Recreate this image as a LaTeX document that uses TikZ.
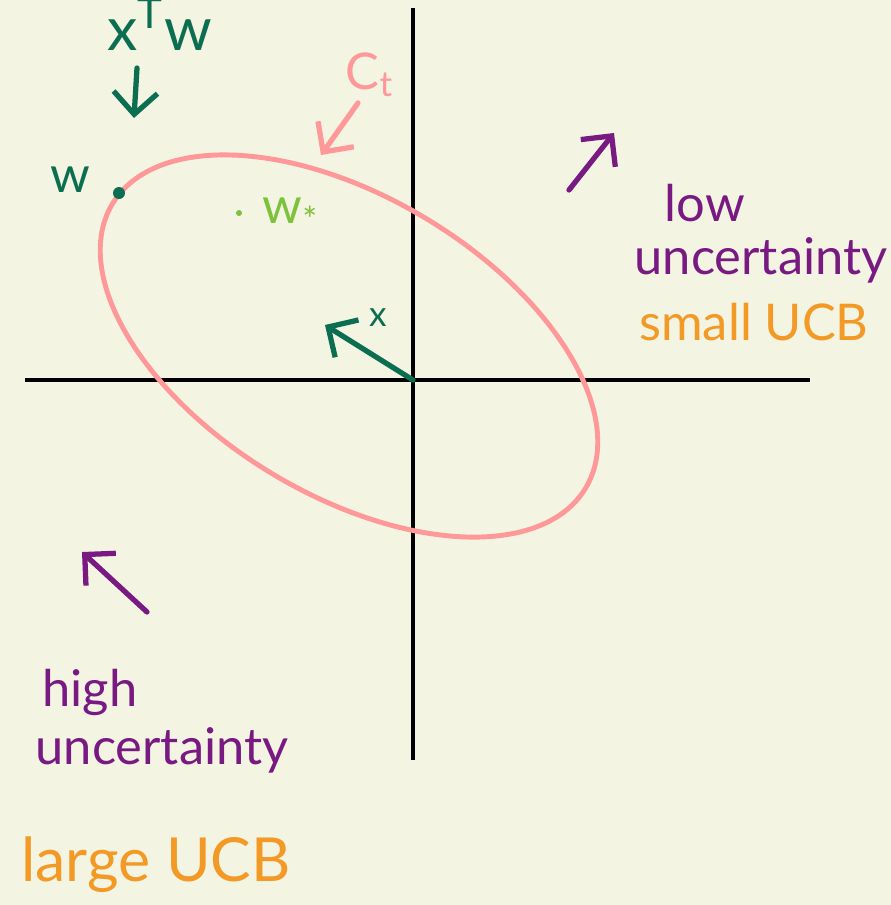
\documentclass[tikz,border=0pt]{standalone}
\usepackage{fontspec}
\setmainfont{Lato}
\usepackage{xcolor}
\usetikzlibrary{arrows.meta}

\definecolor{paper}{RGB}{244,244,227}
\definecolor{confpink}{RGB}{255,153,153}
\definecolor{dgreen}{RGB}{12,110,80}
\definecolor{lgreen}{RGB}{125,194,59}
\definecolor{uncpurple}{RGB}{120,26,130}
\definecolor{ucborange}{RGB}{243,154,38}

\tikzset{
  pen/.style={line width=1.5pt,line cap=round,line join=round,
    -{Straight Barb[length=2.2mm,width=4.4mm]}},
  axis/.style={line width=1.2pt},
  note/.style={font=\Large,inner sep=0pt}
}

\begin{document}
\begin{tikzpicture}
\useasboundingbox[fill=paper] (-4.13,-5.25) rectangle (4.78,3.80);
% axes
\coordinate (O) at (0,0);
\coordinate (xl) at (-3.88,0);
\coordinate (xr) at (3.97,0);
\coordinate (yt) at (0,3.72);
\coordinate (yb) at (0,-3.80);
\draw[axis] (xl) -- (xr);
\draw[axis] (yt) -- (yb);
% confidence set
\draw[confpink,line width=1.4pt,rotate around={-31:(-0.64,0.34)}]
  (-0.64,0.34) ellipse [x radius=2.76, y radius=1.49];
\node[note,text=confpink] (ct) at (-0.43,3.05) {C\textsubscript{t}};
\coordinate (cttail) at (-0.55,2.77);
\coordinate (cttip) at (-0.92,2.25);
\draw[pen,confpink] (cttail) -- (cttip);
% optimum w* and w on the boundary
\coordinate (wstar) at (-1.74,1.67);
\fill[lgreen] (wstar) circle (0.03);
\node[note,text=lgreen,anchor=west] (wstarlab) at (-1.51,1.65) {w\textsubscript{*}};
\coordinate (w) at (-2.94,1.87);
\fill[dgreen] (w) circle (0.06);
\node[note,text=dgreen] (wlab) at (-3.43,2.00) {w};
\node[note,text=dgreen,font=\LARGE] (xtw) at (-2.53,3.56) {x\textsuperscript{T}w};
\coordinate (wtail) at (-2.76,3.12);
\coordinate (wtip) at (-2.79,2.62);
\draw[pen,dgreen] (wtail) -- (wtip);
% direction x
\coordinate (xv) at (-0.88,0.55);
\draw[pen,dgreen] (O) -- (xv);
\node[text=dgreen,inner sep=0pt] (xlab) at (-0.35,0.62) {x};
% uncertainty directions
\coordinate (lowtail) at (1.56,1.90);
\coordinate (lowtip) at (2.01,2.47);
\draw[pen,uncpurple] (lowtail) -- (lowtip);
\coordinate (hightail) at (-2.66,-2.32);
\coordinate (hightip) at (-3.31,-1.72);
\draw[pen,uncpurple] (hightail) -- (hightip);
\node[note,text=uncpurple] (low) at (2.92,1.77) {low};
\node[note,text=uncpurple] (lowunc) at (3.48,1.20) {uncertainty};
\node[note,text=ucborange] (smallucb) at (3.41,0.58) {small UCB};
\node[note,text=uncpurple] (high) at (-3.23,-3.12) {high};
\node[note,text=uncpurple] (highunc) at (-2.51,-3.70) {uncertainty};
\node[note,text=ucborange,font=\LARGE] (largeucb) at (-2.57,-4.85) {large UCB};
\end{tikzpicture}
\end{document}
